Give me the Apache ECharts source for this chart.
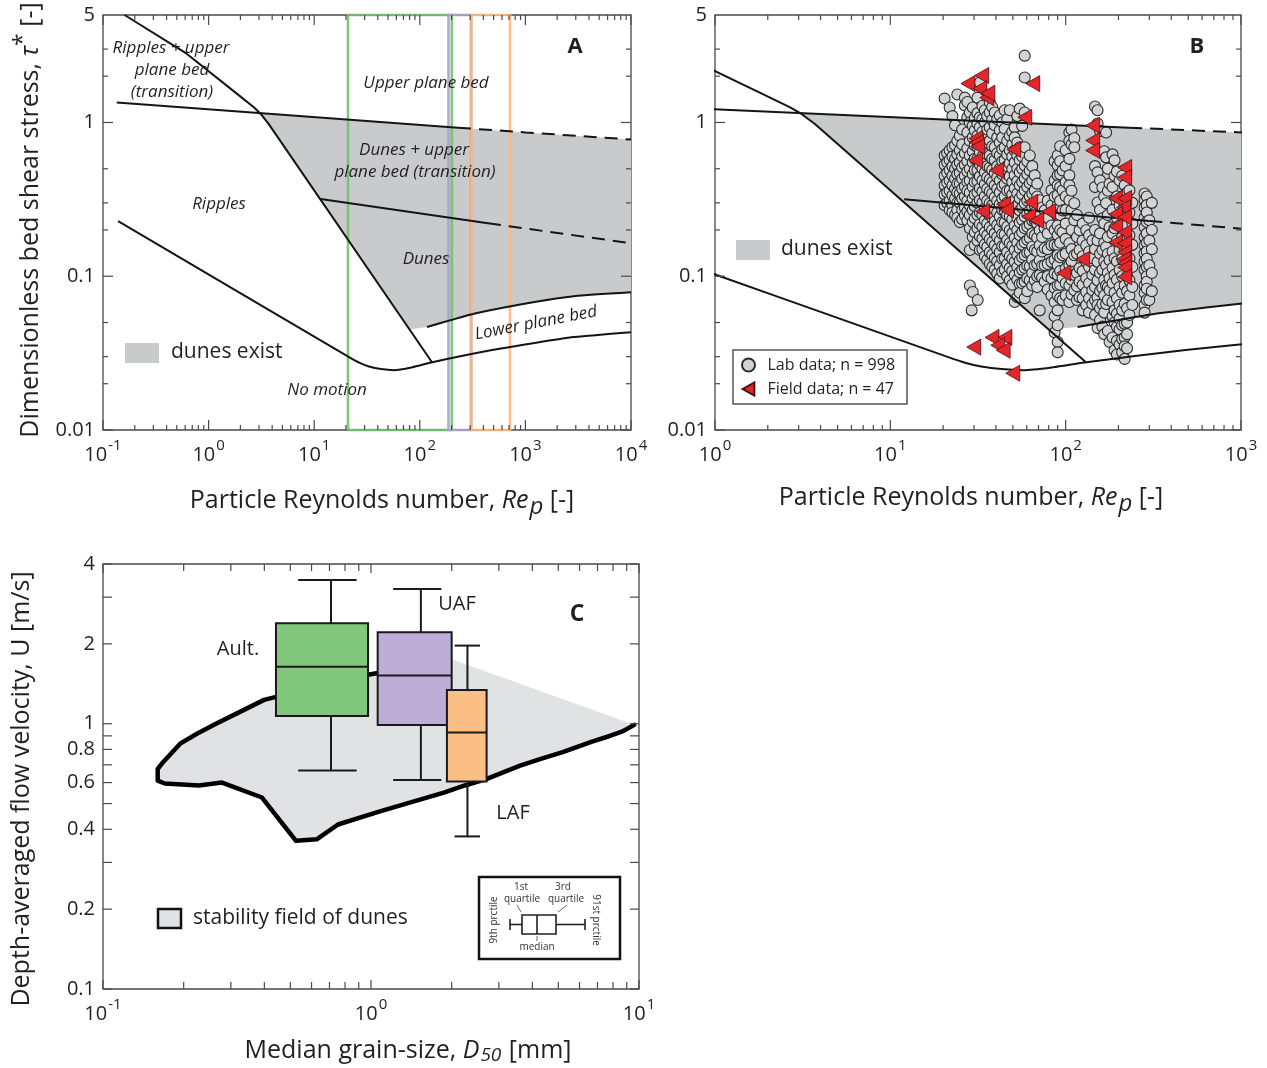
<!DOCTYPE html>
<html>
<head>
<meta charset="utf-8">
<script src="https://cdn.jsdelivr.net/npm/echarts@6/dist/echarts.min.js"></script>
<style>
  html, body { margin: 0; padding: 0; background: #fff; }
  #chart { width: 1267px; height: 1068px; }
</style>
</head>
<body>
<div id="chart"></div>
<script>
// ---------- bedform regime boundaries (Re_p, tau*) ----------
const rippleDuneBoundary = [[0.16, 5], [0.62, 2.8], [1.85, 1.54], [2.7, 1.25], [3.1, 1.14], [3.7, 0.98], [130, 0.0277]];
const upperPlaneSolid = [[0.135, 1.35], [230, 0.925]];
const upperPlaneDashed = [[230, 0.925], [1000, 0.862], [10000, 0.775]];
const transitionSolidA = [[11.5, 0.318], [442, 0.221]];
const transitionDashedA = [[442, 0.221], [10000, 0.164]];
const transitionSolidB = [[12, 0.317], [300, 0.229]];
const transitionDashedB = [[300, 0.229], [1000, 0.204]];
const lowerPlaneBoundary = [[117, 0.0467], [200, 0.052], [340, 0.0575], [1180, 0.0678], [2885, 0.0742], [10000, 0.0787]];
const motionThreshold = [[0.139, 0.228], [21.4, 0.0298], [27, 0.0273], [33, 0.0259], [43, 0.0249], [57, 0.0245],
  [85, 0.0256], [128, 0.0275], [483, 0.0331], [1180, 0.0367], [2885, 0.0402], [10000, 0.0433]];
const duneFieldTop = [[3.1, 1.14], [230, 0.925], [1000, 0.862], [10000, 0.775]];
const duneFieldLeft = [[80, 0.045], [3.7, 0.98]];

// Re_p windows of the three sand classes
const windowRanges = [[20.9, 201], [187, 305], [309, 714]];

// ---------- flume (lab) and river (field) observations ----------
// each entry: [Re_p of the run series, tau* values measured at it]
const labColumns = [
  [20.4, [1.43, 0.61, 0.53, 0.45, 0.39, 0.34, 0.29]],
  [21.1, [0.63, 0.55, 0.47, 0.405, 0.35, 0.30]],
  [21.8, [1.25, 0.66, 0.57, 0.49, 0.42, 0.36, 0.31, 0.27]],
  [22.6, [1.1, 0.69, 0.6, 0.52, 0.45, 0.39, 0.335, 0.29, 0.26]],
  [23.4, [0.96, 0.71, 0.58, 0.50, 0.43, 0.37, 0.32, 0.25]],
  [24.1, [1.52, 0.76, 0.62, 0.53, 0.46, 0.4, 0.35, 0.3, 0.27, 0.24]],
  [24.9, [0.82, 0.66, 0.55, 0.47, 0.40, 0.345, 0.30, 0.225]],
  [25.7, [0.9, 0.72, 0.6, 0.51, 0.43, 0.37, 0.32, 0.27, 0.235]],
  [26.6, [1.45, 1.29, 0.63, 0.53, 0.45, 0.385, 0.33, 0.28, 0.25]],
  [27.5, [1.36, 1.08, 0.86, 0.68, 0.56, 0.48, 0.41, 0.36, 0.31, 0.265, 0.23]],
  [28.4, [1.16, 1.0, 0.76, 0.61, 0.50, 0.42, 0.35, 0.29, 0.25, 0.205, 0.148, 0.087]],
  [29.1, [0.060]],
  [29.5, [1.25, 0.95, 0.8, 0.65, 0.55, 0.46, 0.38, 0.32, 0.27, 0.225, 0.18, 0.079]],
  [30.3, [1.07, 0.89, 0.71, 0.58, 0.49, 0.41, 0.34, 0.285, 0.238, 0.193, 0.159]],
  [31.4, [1.45, 1.15, 0.98, 0.82, 0.69, 0.58, 0.49, 0.415, 0.35, 0.3, 0.25, 0.205, 0.17]],
  [31.5, [0.070]],
  [32.4, [1.82, 1.08, 0.93, 0.76, 0.64, 0.53, 0.446, 0.373, 0.312, 0.26, 0.218, 0.182, 0.148]],
  [33.5, [1.28, 1.05, 0.87, 0.72, 0.6, 0.5, 0.42, 0.355, 0.3, 0.25, 0.21, 0.176, 0.15]],
  [34.6, [1.2, 1.0, 0.82, 0.68, 0.57, 0.474, 0.396, 0.331, 0.277, 0.231, 0.193, 0.161, 0.135]],
  [35.7, [1.1, 0.9, 0.74, 0.62, 0.52, 0.44, 0.37, 0.31, 0.26, 0.22, 0.185, 0.155, 0.128]],
  [36.9, [1.35, 1.16, 0.93, 0.76, 0.61, 0.51, 0.426, 0.356, 0.298, 0.249, 0.208, 0.174, 0.143, 0.12]],
  [38.1, [1.26, 1.04, 0.85, 0.7, 0.58, 0.49, 0.41, 0.345, 0.29, 0.24, 0.2, 0.167, 0.138, 0.115]],
  [39.4, [1.16, 0.96, 0.69, 0.57, 0.467, 0.39, 0.326, 0.272, 0.228, 0.19, 0.159, 0.131, 0.110]],
  [40.7, [1.05, 0.8, 0.63, 0.52, 0.44, 0.37, 0.31, 0.26, 0.215, 0.18, 0.15, 0.125, 0.104]],
  [42.1, [1.11, 0.89, 0.74, 0.61, 0.50, 0.42, 0.351, 0.294, 0.245, 0.205, 0.171, 0.143, 0.118, 0.097]],
  [43.5, [1.0, 0.8, 0.67, 0.56, 0.46, 0.385, 0.32, 0.27, 0.225, 0.188, 0.157, 0.13, 0.107]],
  [44.9, [1.2, 0.91, 0.69, 0.57, 0.474, 0.396, 0.331, 0.268, 0.224, 0.187, 0.157, 0.131, 0.110]],
  [46.4, [1.05, 0.76, 0.62, 0.52, 0.43, 0.36, 0.3, 0.25, 0.21, 0.172, 0.143, 0.12, 0.1]],
  [48.0, [1.2, 0.82, 0.66, 0.543, 0.446, 0.362, 0.298, 0.245, 0.199, 0.164, 0.135, 0.113, 0.094]],
  [49.6, [0.87, 0.72, 0.6, 0.5, 0.41, 0.34, 0.285, 0.235, 0.19, 0.158, 0.13, 0.108, 0.088]],
  [51.2, [0.93, 0.80, 0.66, 0.55, 0.453, 0.373, 0.312, 0.26, 0.214, 0.177, 0.148, 0.124, 0.102, 0.068]],
  [53, [1.1, 0.74, 0.61, 0.5, 0.415, 0.345, 0.29, 0.24, 0.2, 0.165, 0.137, 0.115, 0.095, 0.073]],
  [54.7, [1.23, 0.69, 0.57, 0.474, 0.39, 0.321, 0.268, 0.224, 0.185, 0.152, 0.127, 0.106, 0.089, 0.078]],
  [56.5, [0.95, 0.6, 0.5, 0.41, 0.34, 0.28, 0.232, 0.193, 0.16, 0.133, 0.11, 0.09]],
  [58.4, [2.72, 1.96, 1.16, 0.69, 0.526, 0.433, 0.362, 0.298, 0.245, 0.205, 0.166, 0.137, 0.113, 0.092, 0.072]],
  [60.4, [0.56, 0.46, 0.38, 0.31, 0.255, 0.21, 0.172, 0.142, 0.117, 0.097, 0.08]],
  [62.4, [0.61, 0.488, 0.402, 0.331, 0.268, 0.218, 0.177, 0.143, 0.116, 0.094]],
  [64.5, [0.52, 0.42, 0.345, 0.28, 0.23, 0.19, 0.156, 0.128, 0.105, 0.087]],
  [66.6, [0.453, 0.362, 0.289, 0.231, 0.185, 0.148, 0.118, 0.094]],
  [68.8, [0.4, 0.33, 0.27, 0.22, 0.178, 0.145, 0.12, 0.1, 0.085]],
  [71.1, [0.312, 0.249, 0.199, 0.159, 0.127, 0.102, 0.060]],
  [73.4, [0.28, 0.225, 0.18, 0.145, 0.117, 0.098]],
  [75.9, [0.268, 0.205, 0.152, 0.118, 0.092]],
  [79, [0.31, 0.24, 0.19, 0.15, 0.12, 0.1, 0.082]],
  [83, [0.362, 0.289, 0.214, 0.159, 0.124, 0.097, 0.075]],
  [86.5, [0.56, 0.42, 0.33, 0.26, 0.2, 0.16, 0.128, 0.104, 0.084, 0.068, 0.055, 0.043]],
  [90, [0.61, 0.526, 0.453, 0.39, 0.336, 0.289, 0.249, 0.214, 0.185, 0.159, 0.137, 0.118, 0.102, 0.087, 0.075, 0.060, 0.048, 0.0374, 0.032]],
  [93, [0.7, 0.56, 0.46, 0.38, 0.31, 0.25, 0.2, 0.165, 0.133, 0.108, 0.088, 0.072]],
  [96, [0.488, 0.362, 0.268, 0.193, 0.137, 0.097, 0.070]],
  [100, [0.66, 0.52, 0.41, 0.33, 0.27, 0.22, 0.175, 0.14, 0.112, 0.09, 0.075]],
  [105, [0.86, 0.76, 0.58, 0.453, 0.39, 0.312, 0.164, 0.118, 0.087, 0.068]],
  [108, [0.9, 0.72, 0.36, 0.27, 0.2, 0.15, 0.125, 0.095, 0.076]],
  [112, [0.79, 0.69, 0.298, 0.231, 0.137, 0.102, 0.081]],
  [116, [0.25, 0.18, 0.14, 0.105, 0.086, 0.07]],
  [120, [0.199, 0.148, 0.113, 0.092, 0.073]],
  [125, [0.22, 0.17, 0.135, 0.108, 0.088, 0.072, 0.06]],
  [131, [0.199, 0.159, 0.124, 0.097, 0.079, 0.065]],
  [136, [0.24, 0.185, 0.145, 0.115, 0.09, 0.072, 0.058]],
  [142, [0.171, 0.131, 0.102, 0.081, 0.066]],
  [147, [1.27, 0.52, 0.38, 0.2, 0.15, 0.11, 0.085, 0.07, 0.056]],
  [152, [1.2, 0.985, 0.474, 0.302, 0.171, 0.124, 0.094, 0.073, 0.065, 0.046]],
  [157, [0.88, 0.42, 0.27, 0.19, 0.14, 0.105, 0.08, 0.062, 0.052]],
  [162, [0.378, 0.238, 0.148, 0.110, 0.084, 0.066, 0.047]],
  [166, [0.65, 0.33, 0.22, 0.165, 0.125, 0.095, 0.075, 0.058, 0.042]],
  [170, [0.86, 0.593, 0.298, 0.155, 0.118, 0.087, 0.066]],
  [174, [0.5, 0.36, 0.25, 0.18, 0.14, 0.105, 0.085, 0.07, 0.044]],
  [178, [0.40, 0.208, 0.127, 0.097, 0.081, 0.0374]],
  [185, [0.62, 0.38, 0.27, 0.19, 0.145, 0.113, 0.09, 0.068, 0.055, 0.04]],
  [190, [0.567, 0.45, 0.205, 0.131, 0.102, 0.078, 0.060, 0.050, 0.033]],
  [196, [0.48, 0.33, 0.24, 0.17, 0.125, 0.095, 0.072, 0.057, 0.047, 0.038, 0.031]],
  [203, [0.42, 0.289, 0.214, 0.148, 0.110, 0.085, 0.065, 0.053, 0.045, 0.036]],
  [210, [0.45, 0.33, 0.25, 0.18, 0.13, 0.1, 0.078, 0.06, 0.048, 0.039, 0.032]],
  [217, [0.39, 0.289, 0.214, 0.148, 0.087, 0.066, 0.049, 0.040, 0.035, 0.029]],
  [224, [0.35, 0.25, 0.18, 0.13, 0.1, 0.08, 0.062, 0.05, 0.042, 0.034]],
  [231, [0.362, 0.26, 0.185, 0.131, 0.094, 0.075, 0.056]],
  [240, [0.3, 0.22, 0.16, 0.115, 0.085, 0.065]],
  [282, [0.345, 0.312, 0.28, 0.241, 0.208, 0.179, 0.159, 0.141, 0.124, 0.110, 0.087, 0.078, 0.065, 0.058]],
  [290, [0.33, 0.29, 0.26, 0.225, 0.19, 0.165, 0.145, 0.13, 0.115, 0.1, 0.092, 0.083, 0.07]],
  [300, [0.231, 0.171, 0.118, 0.070]],
  [310, [0.3, 0.2, 0.15, 0.105, 0.08]]
];
const fieldData = [
  [27.7, 1.79], [33.2, 2.02], [32.4, 1.66], [35.5, 1.45], [36, 1.55], [64.9, 1.79], [58.4, 1.08],
  [142.5, 0.956], [142.5, 0.764], [142.5, 0.658],
  [30.7, 0.787], [31, 0.74], [31.5, 0.698], [50.6, 0.668], [30.7, 0.567], [40.4, 0.488],
  [217, 0.51], [217, 0.44],
  [63.2, 0.303], [44.3, 0.294], [46, 0.27], [33.6, 0.264], [80, 0.264], [61.5, 0.245], [68.4, 0.231],
  [193, 0.321], [217, 0.321], [214, 0.28], [193, 0.253], [217, 0.242], [193, 0.21], [217, 0.193],
  [193, 0.166], [217, 0.164], [217, 0.143], [214, 0.129], [217, 0.122], [217, 0.114], [217, 0.099],
  [125, 0.129], [97.5, 0.105],
  [38, 0.040], [45, 0.040], [41, 0.0356], [44, 0.033], [29.9, 0.0346], [49.9, 0.0234]
];

// ---------- panel C: dune stability field and flow velocity spread ----------
const stabilityOutline = [[9.6, 0.99], [8.63, 0.933], [7.73, 0.897], [6.68, 0.856], [5.19, 0.782], [4.33, 0.739],
  [3.6, 0.695], [2.69, 0.618], [2.24, 0.585], [1.87, 0.55], [1.087, 0.468], [0.753, 0.417], [0.629, 0.367],
  [0.525, 0.362], [0.392, 0.527], [0.278, 0.6], [0.228, 0.585], [0.17, 0.595], [0.16, 0.61], [0.16, 0.675],
  [0.1675, 0.716], [0.194, 0.841], [0.224, 0.917], [0.264, 1.0], [0.316, 1.094], [0.399, 1.23], [0.454, 1.27],
  [0.975, 1.53], [1.087, 1.56], [1.5, 1.65]];
const stabilityUpperCorner = [[2.0, 1.75]];
const boxNames = ['Ault.', 'UAF', 'LAF'];
const boxGrain = [[0.442, 0.975], [1.059, 2.0], [1.92, 2.70]];
const capGrain = [[0.535, 0.884], [1.21, 1.83], [2.05, 2.55]];
const stemGrain = [0.709, 1.535, 2.29];
// 9th percentile, 1st quartile, median, 3rd quartile, 91st percentile (m/s)
const boxVelocity = [[0.666, 1.07, 1.64, 2.39, 3.48], [0.613, 0.988, 1.52, 2.21, 3.22], [0.376, 0.605, 0.926, 1.34, 1.97]];

// ---------- axes ----------
const aXRange = [0.1, 10000], bXRange = [1, 1000], abYRange = [0.01, 5];
const cXRange = [0.1, 10], cYRange = [0.1, 4];
const aXLabels = [0.1, 1, 10, 100, 1000, 10000];
const bXLabels = [1, 10, 100, 1000];
const abYLabels = [0.01, 0.1, 1, 5];
const cXLabels = [0.1, 1, 10];
const cYLabels = [0.1, 0.2, 0.4, 0.6, 0.8, 1, 2, 4];
const abYMinorTicks = [0.02, 0.03, 0.05, 0.2, 0.3, 0.5, 2, 3];
const cYTicks = [0.1, 0.2, 0.3, 0.4, 0.5, 0.6, 0.7, 0.8, 0.9, 1, 2, 3, 4];
const mantissas = [2, 3, 4, 5, 6, 7, 8, 9];

const FONT = '"Open Sans", "Noto Sans", sans-serif';
const INK = '#231f20';
const FRAME = '#4a4a4a';
const SHADE = '#c9cacc';
const LIGHT = '#e1e2e4';
const windowColors = ['#73c06f', '#ab9fd1', '#f9ba80'];
const boxColors = ['#80c77c', '#bcaed7', '#fbbe84'];

function decadeTicks(e0, e1) {
  const out = [];
  for (let e = e0; e < e1; e++) mantissas.forEach(m => out.push(+(m * Math.pow(10, e)).toPrecision(6)));
  return out;
}

const labPoints = [];
labColumns.forEach(([re, taus]) => taus.forEach(t => labPoints.push([re, t])));

const duneField = [].concat(duneFieldTop, lowerPlaneBoundary.slice().reverse(), duneFieldLeft);
const stabilityField = stabilityOutline.concat(stabilityUpperCorner);

function powerLabel(v) {
  return '{b|10}{e|' + Math.round(Math.log10(v)) + '}';
}
const powerRich = {
  b: { fontSize: 20, fontFamily: FONT, color: INK, lineHeight: 20, padding: [7, 0, 0, 0] },
  e: { fontSize: 15, fontFamily: FONT, color: INK, lineHeight: 14, padding: [0, 0, 13, 1] }
};

function logX(gi, range, labels) {
  return {
    type: 'log', logBase: 10, gridIndex: gi, min: range[0], max: range[1],
    axisLine: { show: false }, axisTick: { show: false }, splitLine: { show: false }, minorTick: { show: false },
    axisLabel: { customValues: labels, showMinLabel: true, showMaxLabel: true, margin: 12, formatter: powerLabel, rich: powerRich }
  };
}
function logY(gi, range, labels) {
  return {
    type: 'log', logBase: 10, gridIndex: gi, min: range[0], max: range[1],
    axisLine: { show: false }, axisTick: { show: false }, splitLine: { show: false }, minorTick: { show: false },
    axisLabel: {
      customValues: labels, showMinLabel: true, showMaxLabel: true, margin: 8,
      fontSize: 20, fontFamily: FONT, color: INK,
      formatter: v => String(+(+v).toPrecision(3))
    }
  };
}

// inward ticks on all four sides of a panel
function frameTicks(gi, xr, yr, xMajor, xMinor, yMajor, yMinor, lens) {
  return {
    type: 'custom', xAxisIndex: gi, yAxisIndex: gi, silent: true, z: 8,
    data: [[xr[0], yr[0]]],
    renderItem(params, api) {
      const kids = [];
      const seg = (a, b) => kids.push({ type: 'line', shape: { x1: a[0], y1: a[1], x2: b[0], y2: b[1] }, style: { stroke: FRAME, lineWidth: 1.2 } });
      const xt = (list, L) => list.forEach(v => {
        const b = api.coord([v, yr[0]]), t = api.coord([v, yr[1]]);
        seg(b, [b[0], b[1] - L]); seg(t, [t[0], t[1] + L]);
      });
      const yt = (list, L) => list.forEach(v => {
        const l = api.coord([xr[0], v]), r = api.coord([xr[1], v]);
        seg(l, [l[0] + L, l[1]]); seg(r, [r[0] - L, r[1]]);
      });
      xt(xMajor, lens[0]); xt(xMinor, lens[1]); yt(yMajor, lens[2]); yt(yMinor, lens[3]);
      return { type: 'group', children: kids };
    }
  };
}

function area(gi, pts, fill, z) {
  return {
    type: 'custom', xAxisIndex: gi, yAxisIndex: gi, silent: true, z, clip: true,
    data: [pts[0]],
    renderItem(params, api) {
      return { type: 'polygon', shape: { points: pts.map(p => api.coord(p)) }, style: { fill } };
    }
  };
}

function curve(gi, data, dashed, smooth) {
  return {
    type: 'line', xAxisIndex: gi, yAxisIndex: gi, data, symbol: 'none', showSymbol: false, silent: true, z: 3,
    smooth: smooth || false, clip: true,
    lineStyle: { color: '#141414', width: 2, type: dashed ? [13, 8] : 'solid' }
  };
}

function regimeCurves(gi, transSolid, transDashed) {
  return [
    curve(gi, rippleDuneBoundary), curve(gi, upperPlaneSolid), curve(gi, upperPlaneDashed, true),
    curve(gi, transSolid), curve(gi, transDashed, true), curve(gi, lowerPlaneBoundary, false, 0.2),
    curve(gi, motionThreshold, false, 0.25)
  ];
}

const windowsSeries = {
  type: 'custom', xAxisIndex: 0, yAxisIndex: 0, silent: true, z: 2,
  data: [[1, 1]],
  renderItem(params, api) {
    return {
      type: 'group',
      children: windowRanges.map((r, i) => {
        const a = api.coord([r[0], abYRange[1]]), b = api.coord([r[1], abYRange[0]]);
        return {
          type: 'rect', shape: { x: a[0], y: a[1], width: b[0] - a[0], height: b[1] - a[1] },
          style: { fill: 'none', stroke: windowColors[i], lineWidth: 2.6, opacity: 0.9 }
        };
      })
    };
  }
};

const boxSeries = {
  type: 'custom', xAxisIndex: 2, yAxisIndex: 2, silent: true, z: 5,
  data: stemGrain.map((g, i) => [g, boxVelocity[i][2], i]),
  renderItem(params, api) {
    const i = api.value(2);
    const v = boxVelocity[i];
    const stemLo = api.coord([stemGrain[i], v[0]]), stemHi = api.coord([stemGrain[i], v[4]]);
    const capLo0 = api.coord([capGrain[i][0], v[0]]), capLo1 = api.coord([capGrain[i][1], v[0]]);
    const capHi0 = api.coord([capGrain[i][0], v[4]]), capHi1 = api.coord([capGrain[i][1], v[4]]);
    const tl = api.coord([boxGrain[i][0], v[3]]), br = api.coord([boxGrain[i][1], v[1]]);
    const m0 = api.coord([boxGrain[i][0], v[2]]), m1 = api.coord([boxGrain[i][1], v[2]]);
    const stroke = { stroke: '#1a1a1a', lineWidth: 2 };
    return {
      type: 'group', children: [
        { type: 'line', shape: { x1: stemLo[0], y1: stemLo[1], x2: stemHi[0], y2: stemHi[1] }, style: stroke },
        { type: 'line', shape: { x1: capLo0[0], y1: capLo0[1], x2: capLo1[0], y2: capLo1[1] }, style: stroke },
        { type: 'line', shape: { x1: capHi0[0], y1: capHi0[1], x2: capHi1[0], y2: capHi1[1] }, style: stroke },
        { type: 'rect', shape: { x: tl[0], y: tl[1], width: br[0] - tl[0], height: br[1] - tl[1] }, style: { fill: boxColors[i], stroke: '#1a1a1a', lineWidth: 2 } },
        { type: 'line', shape: { x1: m0[0], y1: m0[1], x2: m1[0], y2: m1[1] }, style: stroke }
      ]
    };
  }
};

// ---------- text and keys ----------
function txt(x, y, text, o) {
  o = o || {};
  return {
    type: 'text', x, y, rotation: o.rot || 0, silent: true, z: 30,
    style: {
      text, fill: o.color || INK, fontFamily: FONT, fontSize: o.size || 17,
      fontStyle: o.italic ? 'italic' : 'normal', fontWeight: o.bold ? 'bold' : 'normal',
      align: o.align || 'center', verticalAlign: 'middle', rich: o.rich
    }
  };
}
function seg(x1, y1, x2, y2, w, c) {
  return { type: 'line', silent: true, z: 31, shape: { x1, y1, x2, y2 }, style: { stroke: c || '#222', lineWidth: w || 1.4 } };
}
function titleRich(size) {
  return {
    n: { fontSize: size, fontFamily: FONT, color: INK, lineHeight: size + 2, padding: [6, 0, 4, 0] },
    i: { fontSize: size, fontFamily: FONT, color: INK, fontStyle: 'italic', lineHeight: size + 2, padding: [6, 0, 4, 0] },
    sup: { fontSize: size - 2, fontFamily: FONT, color: INK, lineHeight: size - 2, padding: [0, 0, 14, 0] },
    sub: { fontSize: size - 1, fontFamily: FONT, color: INK, fontStyle: 'italic', lineHeight: size - 2, padding: [14, 0, 0, 1] },
    sub2: { fontSize: size - 6, fontFamily: FONT, color: INK, fontStyle: 'italic', lineHeight: size - 4, padding: [14, 1, 2, 1] }
  };
}

const graphics = [
  // panel A annotations
  txt(171, 48, 'Ripples + upper', { italic: true }),
  txt(172, 70, 'plane bed', { italic: true }),
  txt(172, 92, '(transition)', { italic: true }),
  txt(426, 83, 'Upper plane bed', { italic: true }),
  txt(414, 150, 'Dunes + upper', { italic: true }),
  txt(415, 172, 'plane bed (transition)', { italic: true }),
  txt(219, 204, 'Ripples', { italic: true }),
  txt(426, 259, 'Dunes', { italic: true }),
  txt(536, 323, 'Lower plane bed', { italic: true, rot: 0.19 }),
  txt(327, 390, 'No motion', { italic: true }),
  txt(575, 47, 'A', { bold: true, size: 22 }),
  { type: 'rect', silent: true, z: 30, shape: { x: 125, y: 343, width: 34, height: 20 }, style: { fill: SHADE } },
  txt(171, 352, 'dunes exist', { size: 21, align: 'left' }),
  // panel B
  txt(1197, 47, 'B', { bold: true, size: 22 }),
  { type: 'rect', silent: true, z: 30, shape: { x: 736, y: 240, width: 34, height: 20 }, style: { fill: SHADE } },
  txt(781, 249, 'dunes exist', { size: 21, align: 'left' }),
  // panel C
  txt(238, 649, 'Ault.', { size: 20 }),
  txt(457, 604, 'UAF', { size: 20 }),
  txt(513, 813, 'LAF', { size: 20 }),
  txt(577, 614, 'C', { bold: true, size: 23 }),
  { type: 'rect', silent: true, z: 30, shape: { x: 158, y: 909, width: 23, height: 19 }, style: { fill: LIGHT, stroke: '#111', lineWidth: 2.5 } },
  txt(193, 918, 'stability field of dunes', { size: 21, align: 'left' }),
  // box-plot key
  { type: 'rect', silent: true, z: 30, shape: { x: 479, y: 877, width: 141, height: 82 }, style: { fill: '#fff', stroke: '#111', lineWidth: 2.5 } },
  { type: 'rect', silent: true, z: 31, shape: { x: 522, y: 915, width: 34, height: 19 }, style: { fill: '#fff', stroke: '#222', lineWidth: 1.6 } },
  seg(537, 915, 537, 934, 1.6), seg(510, 924.5, 522, 924.5, 1.6), seg(556, 924.5, 585, 924.5, 1.6),
  seg(510, 919, 510, 930, 1.6), seg(585, 919, 585, 930, 1.6),
  seg(517, 905, 521, 912, 0.8, '#444'), seg(567, 905, 558, 912, 0.8, '#444'), seg(537, 941, 537, 936, 0.8, '#444'),
  txt(521, 887, '1st', { size: 10, color: '#333' }),
  txt(522, 899, 'quartile', { size: 10, color: '#333' }),
  txt(563, 887, '3rd', { size: 10, color: '#333' }),
  txt(566, 899, 'quartile', { size: 10, color: '#333' }),
  txt(537, 947, 'median', { size: 10, color: '#333' }),
  txt(494, 920, '9th prctile', { size: 10, color: '#333', rot: Math.PI / 2 }),
  txt(596, 920, '91st prctile', { size: 10, color: '#333', rot: -Math.PI / 2 }),
  // axis titles
  txt(30, 220, '{n|Dimensionless bed shear stress, }{i|τ}{sup|*}{n| [-]}', { rot: Math.PI / 2, rich: titleRich(25) }),
  txt(382, 500, '{n|Particle Reynolds number, }{i|Re}{sub|p}{n| [-]}', { rich: titleRich(25) }),
  txt(971, 497, '{n|Particle Reynolds number, }{i|Re}{sub|p}{n| [-]}', { rich: titleRich(25) }),
  txt(21, 789, '{n|Depth-averaged flow velocity, U [m/s]}', { rot: Math.PI / 2, rich: titleRich(25) }),
  txt(408, 1050, '{n|Median grain-size, }{i|D}{sub2|50}{n| [mm]}', { rich: titleRich(25) })
];

const gridStyle = { show: true, borderColor: FRAME, borderWidth: 1.3, backgroundColor: 'transparent' };

const option = {
  animation: false,
  backgroundColor: '#fff',
  textStyle: { fontFamily: FONT },
  grid: [
    Object.assign({ left: 103, top: 15, width: 528, height: 415 }, gridStyle),
    Object.assign({ left: 715, top: 15, width: 526, height: 415 }, gridStyle),
    Object.assign({ left: 103, top: 564, width: 536, height: 425 }, gridStyle)
  ],
  xAxis: [logX(0, aXRange, aXLabels), logX(1, bXRange, bXLabels), logX(2, cXRange, cXLabels)],
  yAxis: [logY(0, abYRange, abYLabels), logY(1, abYRange, abYLabels), logY(2, cYRange, cYLabels)],
  legend: [{
    data: [
      { name: 'Lab data; n = 998', icon: 'circle' },
      { name: 'Field data; n = 47', icon: 'path://M0,5L9,0L9,10Z' }
    ],
    orient: 'vertical', left: 733, top: 350, selectedMode: false,
    itemWidth: 20, itemHeight: 13, itemGap: 8, padding: [7, 12, 7, 8],
    borderColor: '#555', borderWidth: 1.5, backgroundColor: '#fff', z: 20,
    textStyle: { fontFamily: FONT, fontSize: 16, color: INK, padding: [0, 0, 0, 4] }
  }],
  graphic: { elements: graphics },
  series: [
    // panel A
    area(0, duneField, SHADE, 1),
    windowsSeries,
    ...regimeCurves(0, transitionSolidA, transitionDashedA),
    frameTicks(0, aXRange, abYRange, aXLabels, decadeTicks(-1, 4), [0.01, 0.1, 1], abYMinorTicks, [10, 5, 10, 5]),
    // panel B
    area(1, duneField, SHADE, 1),
    {
      name: 'Lab data; n = 998', type: 'scatter', xAxisIndex: 1, yAxisIndex: 1, data: labPoints, z: 2,
      symbol: 'circle', symbolSize: 11, silent: true,
      itemStyle: { color: '#d2d3d5', borderColor: '#2a2a2a', borderWidth: 1.1, opacity: 1 }
    },
    ...regimeCurves(1, transitionSolidB, transitionDashedB),
    {
      name: 'Field data; n = 47', type: 'scatter', xAxisIndex: 1, yAxisIndex: 1, data: fieldData, z: 4,
      symbol: 'triangle', symbolSize: [16, 14], symbolRotate: 90, silent: true,
      itemStyle: { color: '#e4262a', borderColor: '#4a1212', borderWidth: 0.8, opacity: 1 }
    },
    frameTicks(1, bXRange, abYRange, bXLabels, decadeTicks(0, 3), [0.01, 0.1, 1], abYMinorTicks, [10, 5, 10, 5]),
    // panel C
    area(2, stabilityField, LIGHT, 1),
    {
      type: 'line', xAxisIndex: 2, yAxisIndex: 2, data: stabilityOutline, symbol: 'none', silent: true, z: 2,
      lineStyle: { color: '#000', width: 4.5, join: 'round', cap: 'round' }
    },
    boxSeries,
    frameTicks(2, cXRange, cYRange, cXLabels, decadeTicks(-1, 1), cYTicks, [], [9, 7, 9, 9])
  ]
};

const chart = echarts.init(document.getElementById('chart'), null, { width: 1267, height: 1068 });
chart.setOption(option);
</script>
</body>
</html>
